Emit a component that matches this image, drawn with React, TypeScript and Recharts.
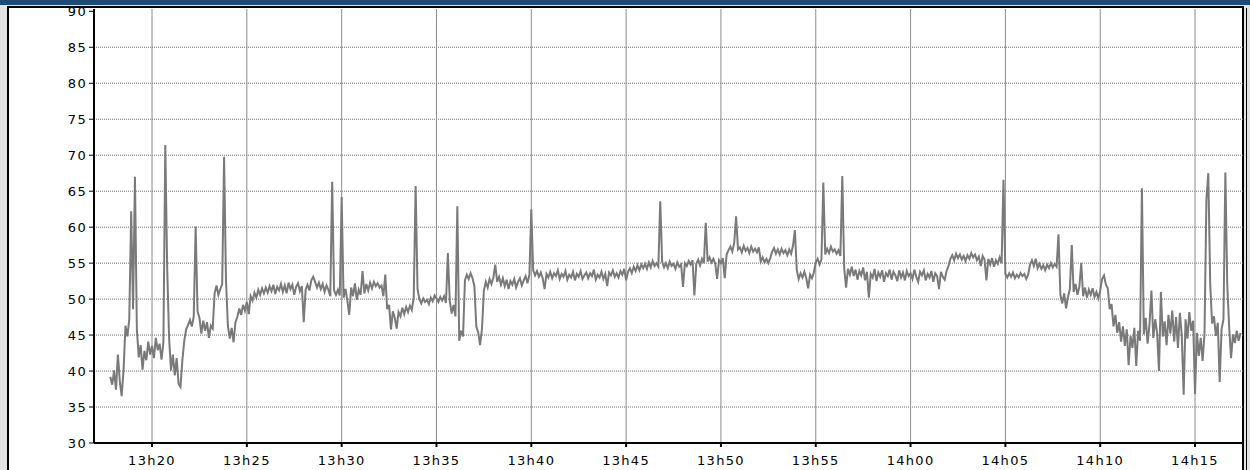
import { CartesianGrid, Line, LineChart, XAxis, YAxis } from "recharts";

// readings sampled every 0.1 min, each block starts at the minute in blockStarts (minutes after 13h00)
const blockStarts = [17.8, 20, 30, 40, 50, 60, 70];

const block13h17 = [
  39.2, 38.1,
  40.1, 37.4, 42.3, 38.6, 36.5, 40.2, 46.3, 44.8, 47.2, 62.2,
  48.6, 67.0, 45.8, 41.9, 43.6, 40.2, 42.8, 41.5, 44.1, 42.3,
];

const block13h20 = [
  43.5, 41.8, 44.6, 42.9, 43.8, 41.6, 44.0, 71.4, 54.2, 44.6,
  40.1, 42.3, 39.4, 41.8, 38.2, 37.8, 41.5, 44.2, 45.8, 46.4,
  47.1, 46.2, 47.6, 60.1, 48.3, 47.4, 45.2, 47.0, 45.6, 46.8,
  44.6, 46.3, 45.9, 50.8, 51.9, 50.6, 51.4, 52.1, 69.8, 52.6,
  46.3, 44.5, 46.0, 44.0, 46.8, 47.5, 48.7, 47.8, 49.2, 48.4,
  49.6, 47.9, 50.4, 49.8, 50.9, 50.2, 51.3, 50.6, 51.5, 50.8,
  51.6, 50.9, 51.8, 51.1, 52.0, 50.7, 51.7, 51.2, 52.1, 51.0,
  51.9, 50.8, 52.3, 51.4, 52.0, 50.6, 51.7, 52.2, 51.1, 51.8,
  46.8, 51.3, 52.0, 51.2, 52.6, 53.1, 52.4, 51.6, 52.3, 51.4,
  52.1, 51.0, 51.9, 51.3, 50.4, 66.3, 51.2, 50.6, 51.3, 50.5,
];

const block13h30 = [
  64.2, 50.2, 51.4, 49.8, 47.8, 51.6, 50.4, 52.2, 49.9, 51.3,
  50.6, 53.9, 50.8, 52.1, 51.2, 52.3, 51.5, 52.4, 51.8, 52.2,
  51.6, 51.9, 50.4, 53.4, 48.6, 49.2, 45.8, 48.3, 47.4, 45.9,
  48.2, 47.6, 48.8, 47.9, 48.9, 48.2, 49.1, 48.5, 50.2, 65.7,
  51.4, 50.0, 49.4, 50.1, 49.6, 49.9, 49.3, 50.2, 49.7, 50.5,
  50.1, 49.6, 50.3, 49.8, 50.4, 49.5, 56.4, 49.8, 48.0, 49.2,
  47.6, 62.9, 44.2, 45.6, 44.8, 52.6, 53.4, 52.8, 53.6, 52.9,
  51.8, 46.2, 45.4, 43.6, 45.9, 51.2, 52.4, 51.6, 52.8, 52.1,
  53.0, 54.8, 52.4, 53.1, 52.0, 52.9, 51.8, 52.7, 51.4, 52.5,
  52.0, 52.8, 51.6, 52.4, 52.9, 51.9, 52.6, 53.2, 52.2, 53.4,
];

const block13h40 = [
  62.5, 54.0, 53.3, 53.9, 53.1, 53.7, 52.9, 51.4, 53.5, 53.0,
  53.8, 52.9, 53.6, 53.2, 54.0, 52.8, 53.5, 53.1, 53.9, 52.7,
  53.4, 53.0, 53.8, 52.6, 53.5, 53.1, 53.9, 52.8, 53.3, 53.7,
  52.9, 53.6, 53.2, 54.1, 52.7, 53.4, 53.0, 53.8, 52.8, 53.5,
  51.8, 53.7, 53.3, 54.0, 53.1, 53.6, 53.0, 53.9, 53.4, 54.2,
  52.6, 53.8, 54.3, 53.6, 54.5, 53.9, 54.7, 54.0, 54.8, 54.3,
  54.9, 54.2, 55.1, 54.4, 55.3, 54.6, 55.0, 54.5, 63.6, 55.2,
  54.4, 55.0, 54.3, 55.2, 54.6, 54.9, 54.2, 55.1, 54.5, 54.8,
  51.7, 55.0, 54.6, 55.3, 54.8, 55.4, 50.5, 54.9, 55.5, 54.7,
  55.6, 55.0, 60.6, 55.2, 55.8, 55.1, 55.6, 54.9, 52.8, 55.4,
];

const block13h50 = [
  55.0, 55.7, 52.9, 56.2, 56.8, 57.3, 56.6, 57.8, 61.5, 56.9,
  57.2, 56.5, 57.4, 56.7, 57.1, 56.4, 57.3, 56.6, 57.0, 56.5,
  57.2, 55.2, 55.8, 55.1, 55.6, 55.0, 55.7, 56.6, 57.1, 56.3,
  56.9, 56.2, 57.0, 56.4, 56.8, 56.1, 56.9, 56.3, 57.4, 59.6,
  54.0, 52.8, 53.6, 53.0, 53.8, 52.9, 51.5, 53.4, 52.9, 53.7,
  55.1, 55.6, 54.8, 55.5, 66.2, 56.2, 57.0, 56.4, 57.3, 56.6,
  56.9, 56.3, 56.8, 56.0, 67.1, 54.3, 51.6, 54.2, 53.4, 54.5,
  53.2, 54.1, 52.7, 53.9, 53.3, 54.4, 52.6, 53.8, 50.2, 53.5,
  53.0, 54.2, 52.5, 53.7, 53.1, 54.0, 52.4, 53.6, 53.2, 54.1,
  52.7, 53.8, 53.3, 52.5, 54.0, 53.0, 53.7, 52.6, 53.9, 53.2,
];

const block14h00 = [
  53.6, 52.8, 54.1, 53.1, 52.4, 53.8, 53.3, 54.0, 52.6, 53.5,
  53.0, 53.9, 52.4, 53.6, 53.2, 51.4, 53.8, 53.1, 52.7, 53.9,
  54.6, 55.6, 56.1, 55.4, 56.3, 55.7, 56.2, 55.5, 56.0, 55.3,
  56.1, 55.6, 56.4, 55.8, 56.2, 55.4, 55.9, 54.6, 56.0, 55.5,
  52.6, 55.6, 54.8, 55.7, 54.5, 55.4, 54.9, 55.8, 55.0, 66.6,
  53.5, 53.0, 53.6, 53.1, 53.7, 52.9, 53.4, 53.0, 53.6, 53.2,
  53.5, 52.8, 53.4, 54.8, 55.4, 54.6, 55.6, 54.3, 54.9, 54.2,
  54.7, 54.0, 54.8, 54.3, 55.0, 54.4, 54.9, 54.5, 59.0, 50.6,
  49.4, 50.8, 48.7, 50.3, 51.4, 57.5, 51.0, 52.1, 50.6, 51.7,
  55.0, 50.4, 51.6, 50.2, 51.3, 50.6, 51.5, 50.3, 51.0, 50.1,
];

const block14h10 = [
  51.2, 52.8, 53.3, 52.0, 51.5, 48.6, 49.3, 46.2, 47.8, 45.3,
  46.8, 44.1, 46.2, 43.5, 45.8, 40.8, 44.9, 43.2, 46.0, 40.7,
  45.6, 44.2, 65.4, 45.1, 47.4, 43.8, 46.5, 51.2, 44.6, 47.2,
  45.3, 40.0, 51.0, 44.8, 46.9, 43.6, 47.8, 45.2, 48.4, 44.1,
  47.5, 43.2, 48.1, 45.0, 36.7, 47.2, 44.5, 48.2, 45.6, 47.0,
  36.8, 45.3, 42.1, 44.6, 41.4, 45.2, 63.8, 67.5, 52.2, 46.6,
  47.6, 44.9, 46.7, 38.5, 45.8, 47.2, 67.6, 52.0, 46.1, 41.8,
  45.1, 43.9, 45.6, 44.2, 45.3,
];

const blocks = [block13h17, block13h20, block13h30, block13h40, block13h50, block14h00, block14h10];

const tickMinutes = [20, 25, 30, 35, 40, 45, 50, 55, 60, 65, 70, 75];
const timeLabels = ["13h20", "13h25", "13h30", "13h35", "13h40", "13h45", "13h50", "13h55", "14h00", "14h05", "14h10", "14h15"];
const valueTicks = [30, 35, 40, 45, 50, 55, 60, 65, 70, 75, 80, 85, 90];

const data = blocks.flatMap((values, b) =>
  values.map((v, i) => ({ t: blockStarts[b] + i * 0.1, v }))
);

const tickFont = { fontFamily: "DejaVu Sans", fontSize: 13, fill: "#000", letterSpacing: 1.3 };

export default function App() {
  return (
    <div style={{ position: "fixed", left: 0, top: 0, width: 1250, height: 470, background: "#e3e3e3", overflow: "hidden" }}>
      <div style={{ position: "absolute", left: 0, top: 0, width: 1250, height: 5, background: "#1c4a73" }} />
      <div
        style={{
          position: "absolute",
          left: 7,
          top: 6,
          width: 1233,
          height: 463,
          background: "#fff",
          borderLeft: "2px solid #000",
          borderTop: "2px solid #000",
          borderRight: "2px solid #000",
        }}
      />
      <div style={{ position: "absolute", left: 1246, top: 8, width: 1, height: 462, background: "#000" }} />
      <div style={{ position: "absolute", left: 0, top: 0 }}>
        <LineChart width={1250} height={470} data={data} margin={{ top: 9, right: 7, bottom: 0, left: 0 }}>
          <CartesianGrid
            vertical={false}
            horizontalValues={[35, 40, 45, 50, 55, 60, 65, 70, 75, 80, 85]}
            stroke="#6e6e6e"
            strokeDasharray="1 1"
          />
          <CartesianGrid horizontal={false} verticalValues={tickMinutes} stroke="#8c8c8c" />
          <XAxis
            dataKey="t"
            type="number"
            domain={[16.94, 77.53]}
            ticks={tickMinutes}
            tickFormatter={(m) => timeLabels[tickMinutes.indexOf(m)] ?? ""}
            height={27}
            tickSize={4}
            tickMargin={9}
            axisLine={{ stroke: "#000", strokeWidth: 2 }}
            tickLine={{ stroke: "#000", strokeWidth: 2 }}
            tick={tickFont}
            allowDataOverflow
          />
          <YAxis
            type="number"
            domain={[30, 90.32]}
            ticks={valueTicks}
            width={94}
            tickSize={5}
            axisLine={{ stroke: "#000", strokeWidth: 2 }}
            tickLine={{ stroke: "#000" }}
            tick={tickFont}
            allowDataOverflow
          />
          <Line
            dataKey="v"
            type="linear"
            stroke="#7a7a7a"
            strokeWidth={2}
            dot={false}
            isAnimationActive={false}
          />
        </LineChart>
      </div>
    </div>
  );
}
